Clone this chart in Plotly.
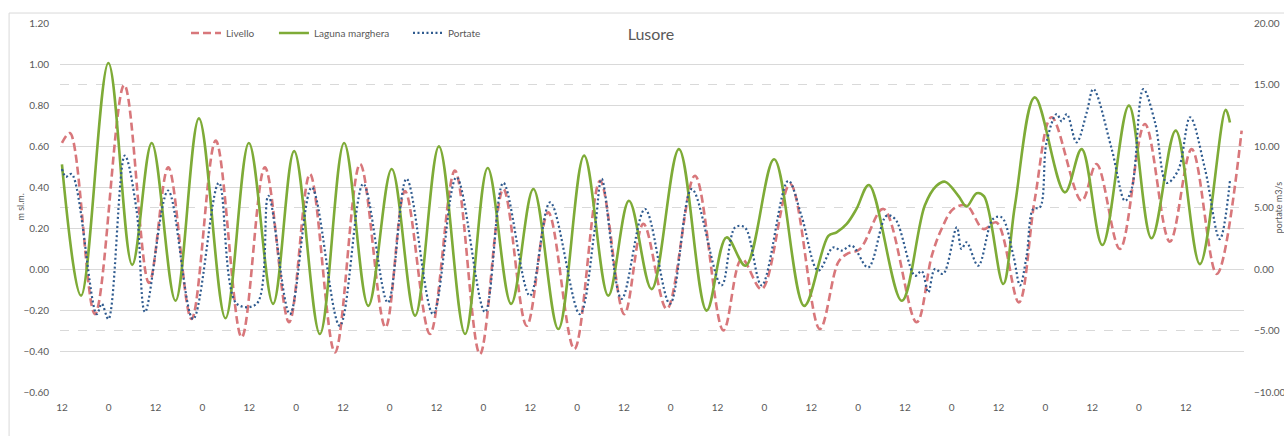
import plotly.graph_objects as go

# ---- data (hours from first label "12") ----
laguna_t = [0, 4.9, 11.9, 18.0, 23.0, 29.1, 35.1, 41.9, 47.9, 54.1, 59.5, 66.1, 72.3, 78.5, 84.5,
            90.5, 96.6, 103.3, 109.1, 115.1, 120.8, 127.2, 133.8, 140.0, 145.3, 151.1, 158.1,
            165.2, 170.3, 175.2, 182.5, 190.2, 196.4, 198.5, 201.1, 203.6, 206.8, 215.2, 221.1,
            224.1, 226.3, 229.7, 231.8, 234.4, 236.3, 241.2, 244.2, 249.3, 257.0, 261.3, 266.6,
            273.4, 279.2, 285.4, 291.6, 298.2, 299.3]
laguna_v = [0.51, -0.13, 1.005, 0.02, 0.615, -0.155, 0.735, -0.24, 0.615, -0.17, 0.575, -0.317,
            0.615, -0.18, 0.488, -0.228, 0.598, -0.317, 0.493, -0.17, 0.39, -0.293, 0.553, -0.13,
            0.333, -0.098, 0.585, -0.203, 0.154, 0.016, 0.535, -0.18, 0.162, 0.179, 0.22, 0.293,
            0.41, -0.155, 0.31, 0.406, 0.426, 0.357, 0.305, 0.37, 0.354, -0.073, 0.31, 0.837,
            0.374, 0.585, 0.117, 0.797, 0.15, 0.675, 0.024, 0.777, 0.715]

livello_t = [0, 2.05, 8.46, 15.96, 22.3, 27.24, 33.2, 39.4, 46.05, 52.0, 58.2, 63.55, 69.96, 76.4,
             82.9, 87.9, 94.3, 100.7, 107.1, 113.1, 119.1, 124.6, 131.3, 137.9, 144.1, 149.0,
             155.0, 162.2, 169.5, 174.2, 179.3, 186.6, 194.2, 198.9, 201.1, 204.5, 210.5, 219.0,
             222.9, 225.4, 228.4, 231.8, 236.1, 239.5, 245.2, 249.3, 253.6, 261.3, 265.1, 271.1,
             277.5, 283.9, 289.5, 295.9, 302.3]
livello_v = [0.615, 0.663, -0.22, 0.898, -0.068, 0.496, -0.244, 0.626, -0.333, 0.496, -0.26, 0.463,
             -0.407, 0.512, -0.285, 0.38, -0.317, 0.48, -0.415, 0.39, -0.277, 0.276, -0.39, 0.43,
             -0.22, 0.22, -0.195, 0.455, -0.30, 0.049, -0.098, 0.415, -0.293, 0.032, 0.073, 0.098,
             0.293, -0.26, 0.065, 0.195, 0.293, 0.31, 0.195, 0.227, -0.163, 0.341, 0.74, 0.333,
             0.512, 0.098, 0.707, 0.133, 0.585, -0.024, 0.675]

portate_t = [0, 1.0, 2.5, 8.9, 10.2, 11.9, 16.1, 19.1, 21.3, 27.2, 33.6, 40.2, 44.8, 49.9, 52.9,
             58.4, 64.0, 71.2, 77.2, 83.5, 88.3, 95.1, 101.1, 108.4, 113.1, 119.9, 125.1, 132.7,
             136.6, 138.3, 143.4, 149.4, 155.8, 161.4, 169.0, 172.5, 175.0, 179.3, 186.1, 189.5,
             193.8, 197.6, 199.8, 202.4, 206.6, 211.3, 213.5, 218.6, 220.3, 222.0, 223.7, 225.8,
             229.3, 230.5, 231.8, 234.8, 238.6, 240.8, 243.8, 245.5, 247.2, 248.9, 250.6, 252.3,
             254.9, 256.2, 257.5, 260.0, 262.6, 264.3, 269.0, 272.4, 274.1, 277.1, 280.1, 283.1,
             286.0, 289.1, 292.9, 296.7, 299.3]
portate_v = [8.13, 7.5, 7.72, -3.67, -2.83, -4.07, 9.22, 4.83, -3.5, 6.37, -4.07, 7.0, -2.83, -2.83,
             5.95, -3.67, 6.63, -4.62, 6.92, -2.72, 7.33, -3.67, 7.45, -3.5, 7.0, -2.17, 5.42,
             -3.67, 3.38, 7.33, -2.43, 4.88, -2.83, 6.5, -1.33, 3.38, 3.38, -1.33, 7.17, 4.33,
             -0.13, 1.75, 1.5, 1.9, 0.13, 4.33, 4.07, -0.55, -0.17, -1.9, 0.0, -0.4, 3.38, 1.63,
             2.17, 0.27, 4.07, 4.2, 1.08, -1.33, 1.08, 4.88, 5.0, 10.3, 12.6, 12.0, 12.6, 10.3,
             12.73, 14.63, 9.75, 5.55, 6.5, 14.63, 11.92, 7.0, 8.0, 12.33, 8.13, 2.43, 7.17]

x_tick_hours = [0, 12, 24, 36, 48, 60, 72, 84, 96, 108, 120, 132, 144, 156, 168, 180, 192, 204,
                216, 228, 240, 252, 264, 276, 288]
x_tick_labels = ["12", "0", "12", "0", "12", "0", "12", "0", "12", "0", "12", "0", "12", "0",
                 "12", "0", "12", "0", "12", "0", "12", "0", "12", "0", "12"]

FONT = "Lato, Open Sans, sans-serif"
TXT = "#595959"

fig = go.Figure()
fig.add_trace(go.Scatter(x=livello_t, y=livello_v, name="Livello", mode="lines", legend="legend",
                         line=dict(color="#d8777b", width=2.6, dash="8px,4px", shape="spline")))
fig.add_trace(go.Scatter(x=laguna_t, y=laguna_v, name="Laguna marghera", mode="lines",
                         legend="legend2",
                         line=dict(color="#7eab37", width=2.6, shape="spline")))
fig.add_trace(go.Scatter(x=portate_t, y=portate_v, name="Portate", mode="lines", yaxis="y2",
                         legend="legend3",
                         line=dict(color="#2f5b8f", width=2.2, dash="2px,2.5px", shape="spline")))

leg_common = dict(orientation="h", xanchor="left", y=0.973, yanchor="middle",
                  bgcolor="rgba(0,0,0,0)", font=dict(family=FONT, size=10, color=TXT),
                  itemwidth=30)

fig.update_layout(
    width=1284, height=436, autosize=False,
    margin=dict(l=60, r=40, t=23, b=44),
    paper_bgcolor="white", plot_bgcolor="white",
    font=dict(family=FONT, size=10, color=TXT),
    title=dict(text="Lusore", x=0.507, xanchor="center", y=0.922, yanchor="middle",
               font=dict(family=FONT, size=16, color=TXT)),
    showlegend=True,
    legend=dict(x=0.1064, **leg_common),
    legend2=dict(x=0.1807, **leg_common),
    legend3=dict(x=0.2939, **leg_common),
    xaxis=dict(range=[-0.5, 302.9], tickmode="array", tickvals=x_tick_hours,
               ticktext=x_tick_labels, showgrid=False, zeroline=False, showline=False,
               ticks="", ticklabelstandoff=8, automargin=False,
               tickfont=dict(size=10, color=TXT)),
    yaxis=dict(range=[-0.6, 1.2], dtick=0.2, tick0=-0.6, tickformat=".2f",
               gridcolor="#d9d9d9", gridwidth=1, zeroline=False, showline=False, ticks="",
               ticklabelstandoff=10, automargin=False, tickfont=dict(size=10, color=TXT)),
    yaxis2=dict(range=[-10, 20], dtick=5, tick0=-10, tickformat=".2f", overlaying="y",
                side="right", showgrid=True, gridcolor="#d9d9d9", griddash="dash",
                gridwidth=1, zeroline=False, showline=False, ticks="", ticklabelstandoff=9,
                automargin=False, tickfont=dict(size=10, color=TXT)),
    annotations=[
        dict(text="m sl.m.", xref="paper", yref="paper", x=(20 - 60) / 1184, y=0.5,
             xanchor="center", yanchor="middle", textangle=-90, showarrow=False,
             font=dict(family=FONT, size=9, color=TXT)),
        dict(text="portate m3/s", xref="paper", yref="paper", x=(1278 - 60) / 1184, y=0.5,
             xanchor="center", yanchor="middle", textangle=-90, showarrow=False,
             font=dict(family=FONT, size=9, color=TXT)),
    ],
    shapes=[dict(type="rect", xref="paper", yref="paper", x0=-0.043, x1=1.2, y0=-0.5, y1=1.027,
                 line=dict(color="#d9d9d9", width=1), fillcolor="rgba(0,0,0,0)", layer="below")],
)

fig.write_html(
    "out.html",
    config={"responsive": False, "displayModeBar": False},
    post_script="document.body.style.margin='0';document.body.style.padding='0';"
                "document.body.style.overflow='hidden';",
)
